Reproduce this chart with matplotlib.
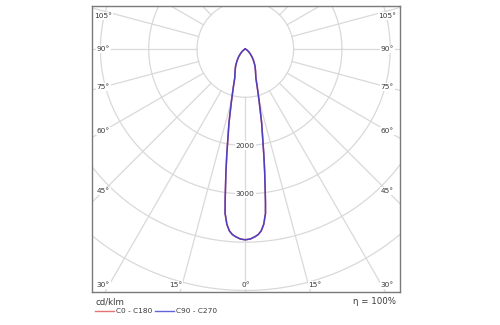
import numpy as np
import matplotlib
matplotlib.use("Agg")
import matplotlib.pyplot as plt

# Luminous intensity distribution (cd/klm) against gamma angle (deg)
gamma_deg = [0, 1.5, 3, 4, 5, 6, 7, 7.5, 8, 9, 10, 12.5, 15, 17.5, 20, 25, 30, 35, 40, 45,
             50, 55, 60, 70, 80, 90]
c0_c180 = [3950, 3935, 3890, 3850, 3780, 3650, 3430, 3200, 2960, 2560, 2200, 1560,
           1100, 820, 640, 500, 400, 300, 220, 150, 100, 60, 30, 5, 0, 0]
c90_c270 = [3950, 3935, 3890, 3850, 3780, 3650, 3430, 3200, 2960, 2560, 2200, 1560,
            1100, 820, 640, 500, 400, 300, 220, 150, 100, 60, 30, 5, 0, 0]

ring_values = [1000, 2000, 3000, 4000, 5000, 6000, 7000]
ring_labels = [2000, 3000]
angle_labels = [0, 15, 30, 45, 60, 75, 90, 105]
legend_names = ["C0 - C180", "C90 - C270"]
unit_text = "cd/klm"
efficiency_text = "\u03b7 = 100%"

W, H = 500, 325
fig = plt.figure(figsize=(W / 100, H / 100), dpi=100)

# frame in pixels and the pole position
fx0, fx1, fy0, fy1 = 92, 400, 6, 292
cx, cy = 245.3, 49.0
px_per_k = 48.3  # pixels per 1000 cd/klm
u = 1000.0 / px_per_k  # data units per pixel

ax = fig.add_axes([fx0 / W, 1 - fy1 / H, (fx1 - fx0) / W, (fy1 - fy0) / H])
ax.set_xlim(-(cx - fx0) * u, (fx1 - cx) * u)
ax.set_ylim(-(fy1 - cy) * u, (cy - fy0) * u)
ax.set_xticks([])
ax.set_yticks([])
for s in ax.spines.values():
    s.set_color("#7a7a7a")
    s.set_linewidth(1.0)

grid_col = "#d9d9d9"
t = np.linspace(0, 2 * np.pi, 721)
for r in ring_values:
    ax.plot(r * np.cos(t), r * np.sin(t), color=grid_col, lw=0.9, zorder=1)
for a in range(0, 360, 15):
    ar = np.radians(a)
    ax.plot([1000 * np.sin(ar), 9000 * np.sin(ar)],
            [-1000 * np.cos(ar), -9000 * np.cos(ar)],
            color=grid_col, lw=0.9, zorder=1)


def mirrored(g, vals):
    g = np.radians(np.asarray(g, float))
    v = np.asarray(vals, float)
    gg = np.concatenate([-g[::-1], g[1:]])
    vv = np.concatenate([v[::-1], v[1:]])
    return vv * np.sin(gg), -vv * np.cos(gg)


x0, y0 = mirrored(gamma_deg, c0_c180)
x1, y1 = mirrored(gamma_deg, c90_c270)
red = "#e05050"
blue = "#3c3cd0"
ax.plot(x0, y0, color=red, lw=1.1, zorder=3)
ax.plot(x1, y1, color=blue, lw=1.1, alpha=0.88, zorder=4)

txt_col = "#3a3a3a"
fs = 5.3
for v in ring_labels:
    ax.text(0, -v, str(v), ha="center", va="center", fontsize=fs, color=txt_col,
            zorder=5, bbox=dict(boxstyle="square,pad=0.15", fc="white", ec="none"))

# angle labels sit on their rays, kept inside the frame
half_w = 142 * u
low_b = -5400.0
y_top, y_bot = 33 * u, -236 * u
for a in angle_labels:
    ar = np.radians(a)
    sx, sy = np.sin(ar), -np.cos(ar)
    cands = []
    if sx > 1e-9:
        cands.append(half_w / sx)
    if sy < -1e-9:
        cands.append(low_b / sy)
    if sy > 1e-9:
        cands.append(9000 / sy)
    rr = min(cands)
    px, py = rr * sx, min(max(rr * sy, y_bot), y_top)
    lab = f"{a}\u00b0"
    ax.text(px, py, lab, ha="center", va="center", fontsize=fs, color=txt_col, zorder=5,
            bbox=dict(boxstyle="square,pad=0.1", fc="white", ec="none"))
    if a != 0:
        ax.text(-px, py, lab, ha="center", va="center", fontsize=fs, color=txt_col, zorder=5,
                bbox=dict(boxstyle="square,pad=0.1", fc="white", ec="none"))

# footer: unit, legend and efficiency
fig.text(95 / W, 1 - 302 / H, unit_text, ha="left", va="center", fontsize=6.2, color=txt_col)
fig.text(396 / W, 1 - 301 / H, efficiency_text, ha="right", va="center", fontsize=6.2,
         color=txt_col)
leg_y = 1 - 311 / H
for (lx0, lx1, tx), name, col in zip([(95, 114, 116), (155, 174, 176)], legend_names,
                                     [red, blue]):
    fig.add_artist(plt.Line2D([lx0 / W, lx1 / W], [leg_y, leg_y], color=col, lw=1.0,
                              alpha=0.8))
    fig.text(tx / W, leg_y, name, ha="left", va="center", fontsize=5.3, color=txt_col)

fig.savefig("out.png", dpi=100)
